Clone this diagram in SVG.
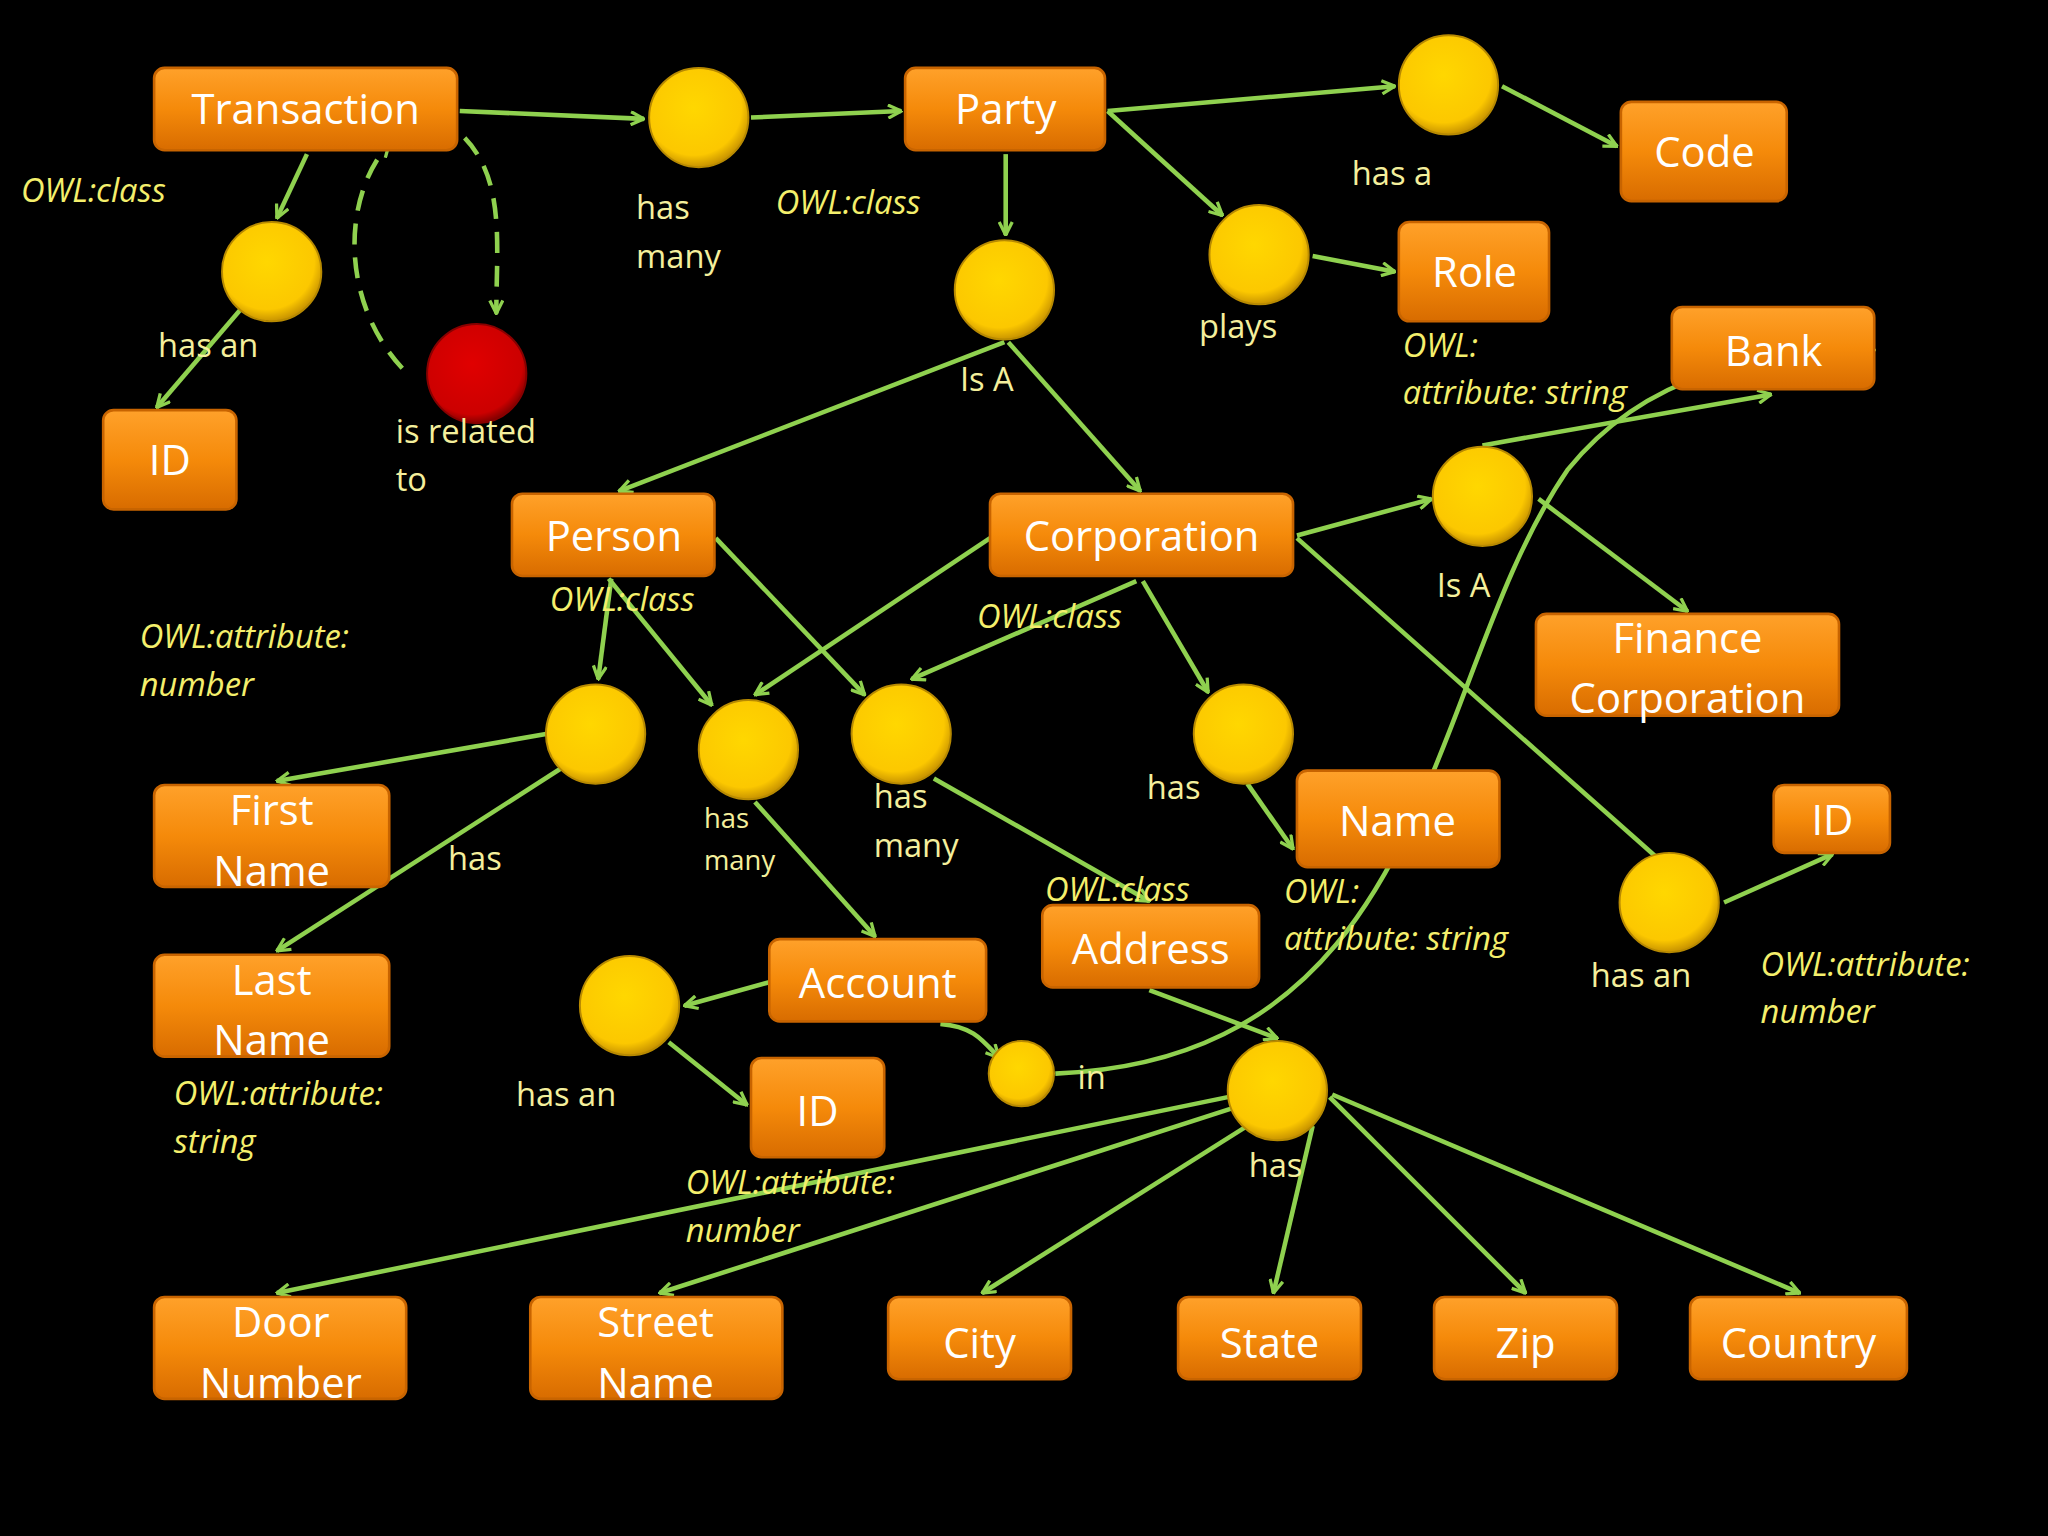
<svg xmlns="http://www.w3.org/2000/svg" width="2048" height="1536" viewBox="0 0 2048 1536">
<defs>
<linearGradient id="og" x1="0" y1="0" x2="0" y2="1"><stop offset="0" stop-color="#ffa12a"/><stop offset="0.5" stop-color="#f58a0a"/><stop offset="1" stop-color="#d86c00"/></linearGradient>
<radialGradient id="yg" cx="0.45" cy="0.4" r="0.6"><stop offset="0" stop-color="#ffd700"/><stop offset="0.8" stop-color="#fcc800"/><stop offset="1" stop-color="#c99400"/></radialGradient>
<radialGradient id="rg" cx="0.45" cy="0.4" r="0.6"><stop offset="0" stop-color="#e00000"/><stop offset="0.85" stop-color="#cc0000"/><stop offset="1" stop-color="#880000"/></radialGradient>
<marker id="a" viewBox="0 0 12 12" refX="11" refY="6" markerWidth="12" markerHeight="12" markerUnits="userSpaceOnUse" orient="auto"><polyline points="1,1 11,6 1,11" fill="none" stroke="#8fd14f" stroke-width="2.5"/></marker>
<style>
.b{fill:url(#og);stroke:#c86400;stroke-width:2}
.bt{font-family:"Open Sans","DejaVu Sans",sans-serif;font-size:32px;fill:#fff;text-anchor:middle}
.y{fill:url(#yg);stroke:#b88a00;stroke-width:1.5}
.l{font-family:"Open Sans","DejaVu Sans",sans-serif;font-size:25px;fill:#f4ef9c}
.o{font-family:"Open Sans","DejaVu Sans",sans-serif;font-size:25px;fill:#f4ef6c;font-style:italic}
.c line,.c path{stroke:#8fd14f;stroke-width:3.5;fill:none;marker-end:url(#a)}
</style>
</defs>
<rect width="2048" height="1536" fill="#000"/>
<g transform="scale(1.3061)">
<g class="c" id="connectors">
<line x1="352" y1="85" x2="493" y2="91"/>
<line x1="575" y1="90" x2="690" y2="85"/>
<line x1="848" y1="85" x2="1068" y2="66"/>
<line x1="1150" y1="66" x2="1238" y2="112"/>
<line x1="848" y1="85" x2="936" y2="165"/>
<line x1="1005" y1="196" x2="1068" y2="208"/>
<line x1="770" y1="118" x2="770" y2="180"/>
<line x1="235" y1="118" x2="212" y2="167"/>
<line x1="185" y1="236" x2="120" y2="312"/>
<path d="M335,90 C390,120 380,180 380,240" stroke-dasharray="16,10"/>
<path d="M308,282 C260,230 262,150 298,110" stroke-dasharray="16,10"/>
<line x1="769" y1="262" x2="474" y2="376"/>
<line x1="772" y1="262" x2="873" y2="376"/>
<line x1="993" y1="410" x2="1096" y2="382"/>
<line x1="1135" y1="341" x2="1356" y2="302"/>
<line x1="1178" y1="382" x2="1292" y2="468"/>
<line x1="468" y1="443" x2="458" y2="520"/>
<line x1="466" y1="443" x2="545" y2="540"/>
<line x1="548" y1="412" x2="662" y2="532"/>
<line x1="758" y1="412" x2="578" y2="532"/>
<line x1="875" y1="445" x2="925" y2="530"/>
<line x1="870" y1="445" x2="698" y2="520"/>
<line x1="993" y1="412" x2="1278" y2="665"/>
<line x1="418" y1="562" x2="212" y2="598"/>
<line x1="430" y1="588" x2="212" y2="728"/>
<line x1="955" y1="600" x2="990" y2="650"/>
<line x1="1320" y1="691" x2="1403" y2="654"/>
<line x1="578" y1="614" x2="670" y2="717"/>
<line x1="715" y1="596" x2="880" y2="690"/>
<line x1="589" y1="752" x2="524" y2="770"/>
<line x1="512" y1="798" x2="572" y2="846"/>
<path d="M720,784 C745,786 752,796 765,810"/>
<path d="M808,822 C1100,810 1090,520 1200,360 C1260,285 1350,268 1435,268"/>
<line x1="880" y1="758" x2="978" y2="795"/>
<line x1="940" y1="840" x2="212" y2="990"/>
<line x1="945" y1="848" x2="505" y2="990"/>
<line x1="955" y1="862" x2="752" y2="990"/>
<line x1="1005" y1="862" x2="975" y2="990"/>
<line x1="1018" y1="840" x2="1168" y2="990"/>
<line x1="1020" y1="838" x2="1378" y2="990"/>
</g>
<g id="n-transaction"><rect class="b" x="118" y="52" width="232" height="63" rx="8"/><text class="bt" x="234" y="95">Transaction</text></g>
<g id="n-party"><rect class="b" x="693" y="52" width="153" height="63" rx="8"/><text class="bt" x="770" y="95">Party</text></g>
<g id="n-code"><rect class="b" x="1241" y="78" width="127" height="76" rx="8"/><text class="bt" x="1305" y="128">Code</text></g>
<g id="n-role"><rect class="b" x="1071" y="170" width="115" height="76" rx="8"/><text class="bt" x="1129" y="220">Role</text></g>
<g id="n-bank"><rect class="b" x="1280" y="235" width="155" height="63" rx="8"/><text class="bt" x="1358" y="280">Bank</text></g>
<g id="n-id1"><rect class="b" x="79" y="314" width="102" height="76" rx="8"/><text class="bt" x="130" y="364">ID</text></g>
<g id="n-person"><rect class="b" x="392" y="378" width="155" height="63" rx="8"/><text class="bt" x="470" y="422">Person</text></g>
<g id="n-corporation"><rect class="b" x="758" y="378" width="232" height="63" rx="8"/><text class="bt" x="874" y="422">Corporation</text></g>
<g id="n-fincorp"><rect class="b" x="1176" y="470" width="232" height="78" rx="8"/><text class="bt" x="1292" y="500">Finance</text><text class="bt" x="1292" y="546">Corporation</text></g>
<g id="n-firstname"><rect class="b" x="118" y="601" width="180" height="78" rx="8"/><text class="bt" x="208" y="632">First</text><text class="bt" x="208" y="678">Name</text></g>
<g id="n-lastname"><rect class="b" x="118" y="731" width="180" height="78" rx="8"/><text class="bt" x="208" y="762">Last</text><text class="bt" x="208" y="808">Name</text></g>
<g id="n-name"><rect class="b" x="993" y="590" width="155" height="74" rx="8"/><text class="bt" x="1070" y="640">Name</text></g>
<g id="n-id2"><rect class="b" x="1358" y="601" width="89" height="52" rx="8"/><text class="bt" x="1403" y="639">ID</text></g>
<g id="n-account"><rect class="b" x="589" y="719" width="166" height="63" rx="8"/><text class="bt" x="672" y="764">Account</text></g>
<g id="n-address"><rect class="b" x="798" y="693" width="166" height="63" rx="8"/><text class="bt" x="881" y="738">Address</text></g>
<g id="n-id3"><rect class="b" x="575" y="810" width="102" height="76" rx="8"/><text class="bt" x="626" y="862">ID</text></g>
<g id="n-door"><rect class="b" x="118" y="993" width="193" height="78" rx="8"/><text class="bt" x="215" y="1024">Door</text><text class="bt" x="215" y="1070">Number</text></g>
<g id="n-street"><rect class="b" x="406" y="993" width="193" height="78" rx="8"/><text class="bt" x="502" y="1024">Street</text><text class="bt" x="502" y="1070">Name</text></g>
<g id="n-city"><rect class="b" x="680" y="993" width="140" height="63" rx="8"/><text class="bt" x="750" y="1040">City</text></g>
<g id="n-state"><rect class="b" x="902" y="993" width="140" height="63" rx="8"/><text class="bt" x="972" y="1040">State</text></g>
<g id="n-zip"><rect class="b" x="1098" y="993" width="140" height="63" rx="8"/><text class="bt" x="1168" y="1040">Zip</text></g>
<g id="n-country"><rect class="b" x="1294" y="993" width="166" height="63" rx="8"/><text class="bt" x="1377" y="1040">Country</text></g>
<g id="c1"><circle class="y" cx="535" cy="90" r="38"/></g>
<g id="c2"><circle class="y" cx="1109" cy="65" r="38"/></g>
<g id="c3"><circle class="y" cx="208" cy="208" r="38"/></g>
<g id="c4"><circle class="y" cx="964" cy="195" r="38"/></g>
<g id="c5"><circle class="y" cx="769" cy="222" r="38"/></g>
<g id="c-red"><circle cx="365" cy="286" r="38" fill="url(#rg)" stroke="#800" stroke-width="1.5"/></g>
<g id="c6"><circle class="y" cx="1135" cy="380" r="38"/></g>
<g id="c7"><circle class="y" cx="456" cy="562" r="38"/></g>
<g id="c8"><circle class="y" cx="573" cy="574" r="38"/></g>
<g id="c9"><circle class="y" cx="690" cy="562" r="38"/></g>
<g id="c10"><circle class="y" cx="952" cy="562" r="38"/></g>
<g id="c11"><circle class="y" cx="1278" cy="691" r="38"/></g>
<g id="c12"><circle class="y" cx="482" cy="770" r="38"/></g>
<g id="c13"><circle class="y" cx="782" cy="822" r="25"/></g>
<g id="c14"><circle class="y" cx="978" cy="835" r="38"/></g>
<g id="labels">
<text class="o" x="16" y="155">OWL:class</text>
<text class="l" x="487" y="168">has</text><text class="l" x="487" y="205">many</text>
<text class="o" x="594" y="164">OWL:class</text>
<text class="l" x="1035" y="142">has a</text>
<text class="l" x="918" y="259">plays</text>
<text class="o" x="1074" y="273">OWL:</text><text class="o" x="1074" y="309">attribute: string</text>
<text class="l" x="121" y="273">has an</text>
<text class="l" x="303" y="339">is related</text><text class="l" x="303" y="376">to</text>
<text class="l" x="735" y="299">Is A</text>
<text class="l" x="1100" y="457">Is A</text>
<text class="o" x="421" y="468">OWL:class</text>
<text class="o" x="107" y="496">OWL:attribute:</text><text class="o" x="107" y="533">number</text>
<text class="o" x="748" y="481">OWL:class</text>
<text class="l" x="878" y="612">has</text>
<text class="l" x="343" y="666">has</text>
<text class="l" x="539" y="634" style="font-size:21px">has</text><text class="l" x="539" y="666" style="font-size:21px">many</text>
<text class="l" x="669" y="619">has</text><text class="l" x="669" y="656">many</text>
<text class="o" x="800" y="690">OWL:class</text>
<text class="o" x="983" y="691">OWL:</text><text class="o" x="983" y="727">attribute: string</text>
<text class="l" x="1218" y="756">has an</text>
<text class="o" x="1348" y="747">OWL:attribute:</text><text class="o" x="1348" y="783">number</text>
<text class="o" x="133" y="846">OWL:attribute:</text><text class="o" x="133" y="883">string</text>
<text class="l" x="395" y="847">has an</text>
<text class="l" x="825" y="834">in</text>
<text class="o" x="525" y="914">OWL:attribute:</text><text class="o" x="525" y="951">number</text>
<text class="l" x="956" y="901">has</text>
</g>
</g>
</svg>
